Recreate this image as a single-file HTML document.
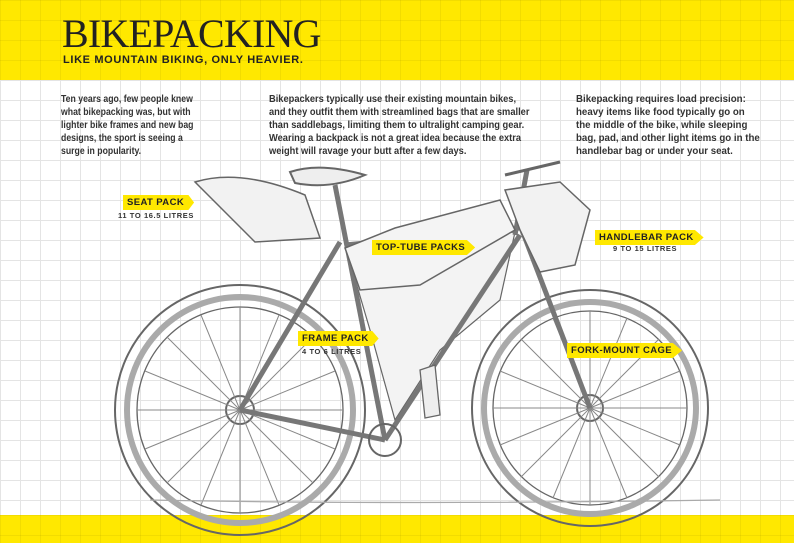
<!DOCTYPE html>
<html><head><meta charset="utf-8"><style>
*{margin:0;padding:0;box-sizing:border-box}
body{width:794px;height:543px;overflow:hidden;position:relative;font-family:"Liberation Sans",sans-serif;color:#2a2a2a;
background-color:#fff;background-image:linear-gradient(#e4e4e4 1px,transparent 1px),linear-gradient(90deg,#e4e4e4 1px,transparent 1px);background-size:20px 20px}
.band{position:absolute;left:0;width:794px;background:#ffe800;background-image:linear-gradient(rgba(0,0,0,.05) 1px,transparent 1px),linear-gradient(90deg,rgba(0,0,0,.05) 1px,transparent 1px);background-size:20px 20px}
h1{position:absolute;left:62px;top:14px;font-family:"Liberation Serif",serif;font-weight:normal;font-size:40px;line-height:40px;color:#222;letter-spacing:-0.8px}
h2{position:absolute;left:63px;top:54px;font-size:11px;font-weight:bold;letter-spacing:0.65px;color:#222}
.p{position:absolute;font-size:10px;line-height:13px;font-weight:bold;color:#333;white-space:nowrap;transform-origin:0 0}
.lab{position:absolute;background:#ffe800;font-size:9.5px;font-weight:bold;padding:2px 10px 2px 4px;color:#222;letter-spacing:.4px;clip-path:polygon(0 0,92% 0,100% 50%,92% 100%,0 100%)}
.sub{position:absolute;font-size:7.5px;font-weight:bold;letter-spacing:.6px;color:#333}
</style></head><body>
<div class="band" style="top:0;height:80px"></div>
<div class="band" style="top:515px;height:28px"></div>
<h1>BIKEPACKING</h1>
<h2>LIKE MOUNTAIN BIKING, ONLY HEAVIER.</h2>
<div class="p" style="left:61px;top:93px;transform:scaleX(0.87)">Ten years ago, few people knew<br>what bikepacking was, but with<br>lighter bike frames and new bag<br>designs, the sport is seeing a<br>surge in popularity.</div>
<div class="p" style="left:269px;top:93px;transform:scaleX(0.93)">Bikepackers typically use their existing mountain bikes,<br>and they outfit them with streamlined bags that are smaller<br>than saddlebags, limiting them to ultralight camping gear.<br>Wearing a backpack is not a great idea because the extra<br>weight will ravage your butt after a few days.</div>
<div class="p" style="left:576px;top:93px;transform:scaleX(0.97)">Bikepacking requires load precision:<br>heavy items like food typically go on<br>the middle of the bike, while sleeping<br>bag, pad, and other light items go in the<br>handlebar bag or under your seat.</div>
<svg width="794" height="543" style="position:absolute;left:0;top:0" fill="none" stroke="#666" stroke-width="1.3">
<circle cx="240" cy="410" r="125" stroke-width="2"/><circle cx="240" cy="410" r="113" stroke-width="6" stroke="#aaa"/><circle cx="240" cy="410" r="103"/>
<circle cx="240" cy="410" r="14" stroke-width="2"/>
<circle cx="590" cy="408" r="118" stroke-width="2"/><circle cx="590" cy="408" r="106" stroke-width="6" stroke="#aaa"/><circle cx="590" cy="408" r="97"/>
<circle cx="590" cy="408" r="13" stroke-width="2"/>
<g stroke="#888" stroke-width="1">
<path d="M240 410 L240 307 M240 410 L240 513 M240 410 L137 410 M240 410 L343 410 M240 410 L167 337 M240 410 L313 483 M240 410 L313 337 M240 410 L167 483 M240 410 L201 315 M240 410 L279 505 M240 410 L279 315 M240 410 L201 505 M240 410 L145 371 M240 410 L335 449 M240 410 L335 371 M240 410 L145 449"/>
<path d="M590 408 L590 311 M590 408 L590 505 M590 408 L493 408 M590 408 L687 408 M590 408 L521 339 M590 408 L659 477 M590 408 L659 339 M590 408 L521 477 M590 408 L553 318 M590 408 L627 498 M590 408 L627 318 M590 408 L553 498 M590 408 L500 371 M590 408 L680 445 M590 408 L680 371 M590 408 L500 445"/>
</g>
<path d="M345 245 L515 232 L500 300 L440 350 L395 420 L370 330 Z" fill="#f3f3f3" stroke-width="1.2"/>
<g stroke-width="5" stroke="#777">
<path d="M240 410 L385 440"/>
<path d="M385 440 L335 185"/>
<path d="M345 245 L520 228"/>
<path d="M385 440 L520 235"/>
<path d="M240 410 L340 242"/>
<path d="M520 225 L590 408"/>
<path d="M515 235 L527 170"/>
</g>
<path d="M290 172 Q320 162 365 175 Q330 190 295 183 Z" stroke-width="2" fill="#eee"/>
<path d="M195 182 Q240 168 305 195 L320 238 L255 242 Z" fill="#f2f2f2" stroke-width="1.5"/>
<path d="M345 248 L395 228 L500 200 L515 230 L420 285 L360 290 Z" fill="#f4f4f4" stroke-width="1.5"/>
<path d="M505 190 L560 182 L590 210 L575 265 L540 272 L520 230 Z" fill="#f2f2f2" stroke-width="1.5"/>
<path d="M505 175 L560 162" stroke-width="3"/>
<circle cx="385" cy="440" r="16" stroke-width="2"/>
<path d="M420 370 L435 365 L440 415 L425 418 Z" fill="#eee"/>
<path d="M150 500 Q400 505 720 500" stroke="#aaa"/>
</svg>
<div class="lab" style="left:123px;top:195px">SEAT PACK</div>
<div class="sub" style="left:118px;top:211px">11 TO 16.5 LITRES</div>
<div class="lab" style="left:372px;top:240px">TOP-TUBE PACKS</div>
<div class="lab" style="left:298px;top:331px">FRAME PACK</div>
<div class="sub" style="left:302px;top:347px">4 TO 6 LITRES</div>
<div class="lab" style="left:595px;top:230px">HANDLEBAR PACK</div>
<div class="sub" style="left:613px;top:244px">9 TO 15 LITRES</div>
<div class="lab" style="left:567px;top:343px">FORK-MOUNT CAGE</div>
</body></html>
